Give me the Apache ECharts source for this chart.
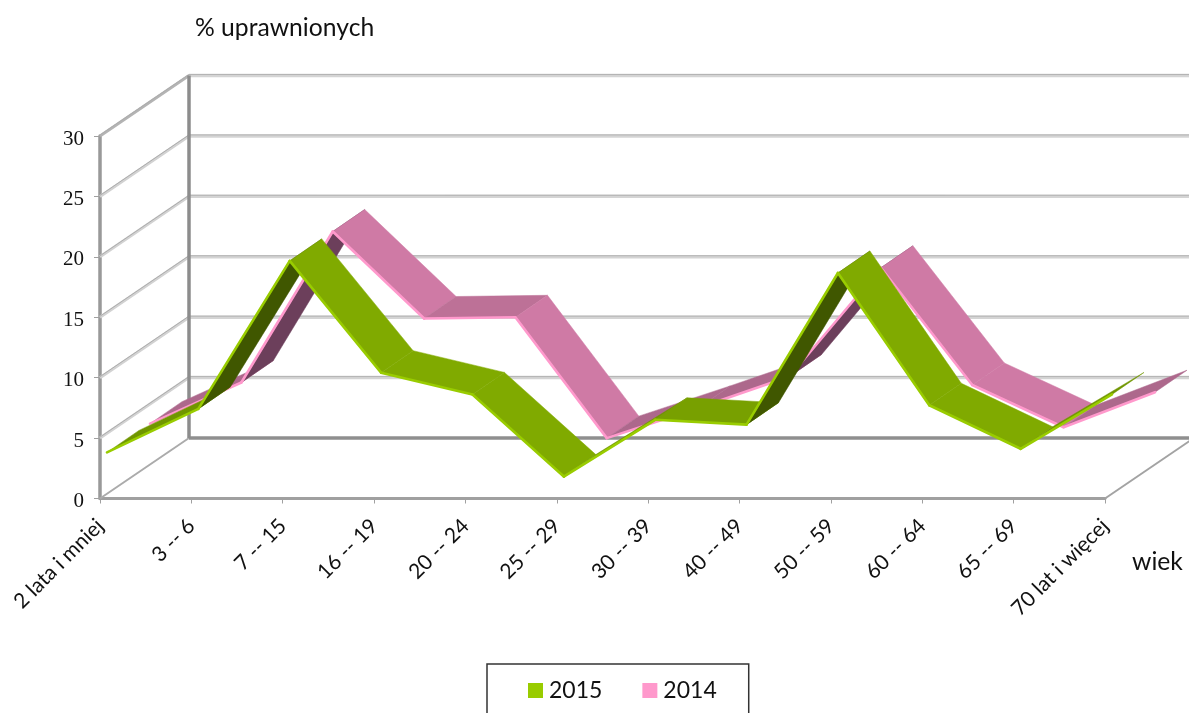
<!DOCTYPE html>
<html lang="pl">

<head>
    <meta charset="UTF-8">
    <style>
    html,
    body {
        height: 100%;
        margin: 0;
        background: #fff;
    }
  </style>
</head>

<body>
<div id="chart" style="width:1189px;height:713px;"></div>
<script src="https://cdn.jsdelivr.net/npm/echarts@6/dist/echarts.min.js"></script>
<script>
    var categories = ['2 lata i mniej', '3 -- 6', '7 -- 15', '16 -- 19', '20 -- 24', '25 -- 29', '30 -- 39', '40 -- 49', '50 -- 59', '60 -- 64', '65 -- 69', '70 lat i więcej'];
    var values2015 = [3.4, 7.0, 19.25, 10.0, 8.2, 1.4, 6.1, 5.7, 18.25, 7.3, 3.7, 8.2];
    var values2014 = [3.3, 6.7, 19.2, 12.0, 12.1, 2.1, 4.6, 7.2, 16.2, 6.5, 3.0, 5.9];
    var yTicks = [0, 5, 10, 15, 20, 25, 30];

    // fake 3D: how far the back wall and each ribbon sit behind the front plane, in px
    var WALL = [89, -60.5];
    var RIBBON = [32, -22];

    function segments(values) {
        var out = [];
        for (var i = 0; i < values.length - 1; i++) {
            out.push([i, values[i], i + 1, values[i + 1]]);
        }
        return out;
    }

    function ribbon(offset, colors) {
        return function (params, api) {
            var a = api.coord([api.value(0), api.value(1)]);
            var b = api.coord([api.value(2), api.value(3)]);
            var p1 = [a[0] + offset[0], a[1] + offset[1]];
            var p2 = [b[0] + offset[0], b[1] + offset[1]];
            var p3 = [p2[0] + RIBBON[0], p2[1] + RIBBON[1]];
            var p4 = [p1[0] + RIBBON[0], p1[1] + RIBBON[1]];
            var dx = p2[0] - p1[0];
            var dy = p2[1] - p1[1];
            var cross = dx * RIBBON[1] - dy * RIBBON[0];
            var fill = colors.top;
            if (cross > 0) fill = colors.under;
            else if (dy < -10) fill = colors.rising;
            else if (dy < 10) fill = colors.flat;
            return {
                type: 'group',
                children: [
                    {
                        type: 'polygon',
                        shape: { points: [p1, p2, p3, p4] },
                        style: { fill: fill, stroke: fill, lineWidth: 0.5 }
                    },
                    {
                        type: 'line',
                        shape: { x1: p1[0], y1: p1[1], x2: p2[0], y2: p2[1] },
                        style: { stroke: colors.edge, lineWidth: 2.6, lineCap: 'round' }
                    }
                ]
            };
        };
    }

    function segLine(x1, y1, x2, y2, color, width) {
        return {
            type: 'line',
            shape: { x1: x1, y1: y1, x2: x2, y2: y2 },
            style: { stroke: color, lineWidth: width }
        };
    }

    function renderWalls(params, api) {
        var v = api.value(0);
        var left = api.coord([0, v]);
        var right = api.coord([categories.length - 1, v]);
        var bx = left[0] + WALL[0];
        var by = left[1] + WALL[1];
        var top = yTicks[yTicks.length - 1];
        var children = [];
        if (v === 0) {
            children.push(segLine(left[0], left[1], bx, by, '#ABABAB', 2));
            children.push(segLine(right[0], right[1], right[0] + WALL[0], right[1] + WALL[1], '#A3A3A3', 2));
            children.push(segLine(bx, by, 1189, by, '#8F8F8F', 3.5));
        } else {
            children.push(segLine(left[0], left[1], bx, by, v === top ? '#B4B4B4' : '#D2D2D2', 3));
            children.push(segLine(left[0], left[1] - 1, bx, by - 1, '#ADADAD', 1));
            children.push(segLine(bx, by, 1189, by, '#D4D4D4', 3.5));
            children.push(segLine(bx, by - 1, 1189, by - 1, '#B4B4B4', 1));
        }
        if (v === top) {
            var bottom = api.coord([0, 0]);
            children.push(segLine(bx, by, bx, bottom[1] + WALL[1], '#8C8C8C', 3.5));
        }
        return { type: 'group', children: children };
    }

    var myChart = echarts.init(document.getElementById('chart'));
    myChart.setOption({
        animation: false,
        title: [
            {
                text: '% uprawnionych',
                left: 190,
                top: 11,
                textStyle: { fontFamily: 'Lato', fontSize: 24.7, fontWeight: 'normal', color: '#111' }
            },
            {
                text: 'wiek',
                left: 1127,
                top: 545,
                textStyle: { fontFamily: 'Lato', fontSize: 24.7, fontWeight: 'normal', color: '#111' }
            }
        ],
        legend: {
            left: 487,
            top: 664,
            data: ['2015', '2014'],
            icon: 'rect',
            itemWidth: 15,
            itemHeight: 15,
            itemGap: 40,
            selectedMode: false,
            padding: [15, 32, 40, 41],
            borderColor: '#333',
            borderWidth: 1.5,
            textStyle: { fontFamily: 'Lato', fontSize: 23, color: '#111', padding: [0, 0, 0, 1] }
        },
        grid: {
            left: 100,
            right: 84,
            top: 136,
            bottom: 214.5
        },
        xAxis: {
            type: 'category',
            boundaryGap: false,
            data: categories,
            axisLine: { lineStyle: { color: '#A0A0A0', width: 3 } },
            axisTick: { alignWithLabel: true, length: 5, lineStyle: { color: '#A0A0A0', width: 1 } },
            axisLabel: {
                interval: 0,
                rotate: 45,
                margin: 24,
                fontFamily: 'Lato',
                fontSize: 21,
                color: '#111'
            }
        },
        yAxis: {
            type: 'value',
            min: 0,
            max: 30,
            interval: 5,
            splitLine: { show: false },
            axisLine: { show: true, lineStyle: { color: '#999', width: 3.5 } },
            axisTick: { show: true, length: 6, lineStyle: { color: '#A0A0A0', width: 1 } },
            axisLabel: {
                margin: 16,
                formatter: '{n|{value}}',
                rich: {
                    n: {
                        padding: [6, 0, 0, 0],
                        fontFamily: 'Liberation Serif',
                        fontSize: 21,
                        color: '#111'
                    }
                }
            }
        },
        series: [
            {
                type: 'custom',
                name: 'walls',
                z: 1,
                clip: false,
                silent: true,
                data: yTicks.map(function (v) { return [v]; }),
                renderItem: renderWalls
            },
            {
                type: 'custom',
                name: '2014',
                z: 2,
                clip: false,
                itemStyle: { color: '#FF99CC' },
                encode: { x: [0, 2], y: [1, 3] },
                data: segments(values2014),
                renderItem: ribbon([50, -35], { top: '#CF7AA5', flat: '#BD7197', rising: '#AD688C', under: '#6C3F5B', edge: '#FF99CC' })
            },
            {
                type: 'custom',
                name: '2015',
                z: 3,
                clip: false,
                itemStyle: { color: '#99CC00' },
                encode: { x: [0, 2], y: [1, 3] },
                data: segments(values2015),
                renderItem: ribbon([7, -5], { top: '#80AA00', flat: '#78A000', rising: '#709600', under: '#405700', edge: '#99CC00' })
            }
        ]
    });
</script>
</body>
</html>
